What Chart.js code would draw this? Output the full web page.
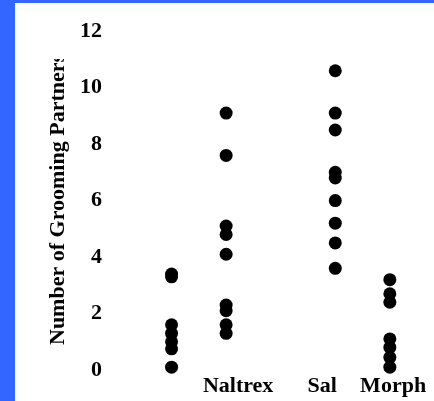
<!DOCTYPE html>
<html lang="en">

<head>
    <meta charset="UTF-8" />
    <title>Grooming Partners</title>
    <script src="https://cdn.jsdelivr.net/npm/chart.js"></script>
    <style>
        html, body { margin: 0; padding: 0; }
        body { background: #3366ff; width: 434px; height: 401px; overflow: hidden; }
        .painel {
            position: absolute; left: 15px; top: 3px;
            width: 419px; height: 398px; background: #ffffff;
        }
    </style>
</head>

<body>
    <div class="painel">
        <canvas id="graficoGrooming"></canvas>
    </div>
    <script>
        // groups on the x axis (first one has no label)
        const grupos = ['', 'Naltrex', 'Sal', 'Morph'];
        const posGrupos = [1, 2, 4, 5];

        // number of grooming partners per animal
        const semRotulo = [3.4, 3.3, 1.6, 1.3, 1.0, 0.75, 0.1];
        const naltrex = [9.1, 7.6, 5.1, 4.8, 4.1, 2.3, 2.1, 1.6, 1.3];
        const sal = [10.6, 9.1, 8.5, 7.0, 6.8, 6.0, 5.2, 4.5, 3.6];
        const morph = [3.2, 2.7, 2.4, 1.1, 0.8, 0.45, 0.1];

        const yTicks = [0, 2, 4, 6, 8, 10, 12];
        const tituloY = 'Number of Grooming Partners';

        // where the group names sit under the axis
        const posRotulos = [1, 2.22, 3.76, 5.06];

        const series = [semRotulo, naltrex, sal, morph];
        const pontos = [];
        for (let i = 0; i < series.length; i++) {
            for (let j = 0; j < series[i].length; j++) {
                pontos.push({ x: posGrupos[i], y: series[i][j] });
            }
        }

        const fonte = { family: '"Liberation Serif", "Times New Roman", serif', weight: 'bold', size: 22 };

        // vertical title, cut off at the top like the old slide
        const tituloPlugin = {
            id: 'tituloY',
            afterDraw(chart) {
                const ctx = chart.ctx;
                ctx.save();
                ctx.beginPath();
                ctx.rect(0, 56, 90, chart.height - 56);
                ctx.clip();
                ctx.translate(43, 342);
                ctx.rotate(-Math.PI / 2);
                ctx.font = 'bold 22px "Liberation Serif", "Times New Roman", serif';
                ctx.fillStyle = '#000';
                ctx.textAlign = 'left';
                ctx.textBaseline = 'middle';
                ctx.fillText(tituloY, 0, 0);
                ctx.restore();
            }
        };

        const ctx = document.getElementById('graficoGrooming');
        new Chart(ctx, {
            type: 'scatter',
            data: {
                datasets: [{
                    data: pontos,
                    backgroundColor: '#000',
                    borderWidth: 0,
                    pointRadius: 6.5,
                    pointHoverRadius: 6.5,
                    clip: false
                }]
            },
            options: {
                responsive: true,
                maintainAspectRatio: false,
                animation: false,
                layout: { padding: { top: 25, right: 0, bottom: 0, left: 0 } },
                plugins: { legend: { display: false }, tooltip: { enabled: false } },
                scales: {
                    x: {
                        type: 'linear',
                        min: 0,
                        max: 5.69,
                        grid: { display: false, drawTicks: false },
                        border: { display: false },
                        afterBuildTicks: (s) => { s.ticks = posRotulos.map(v => ({ value: v })); },
                        afterFit: (s) => { s.height = 31; },
                        ticks: {
                            autoSkip: false,
                            maxRotation: 0,
                            padding: 3,
                            color: '#000',
                            font: fonte,
                            callback: (v, i) => grupos[i]
                        }
                    },
                    y: {
                        min: 0,
                        max: 12,
                        grid: { display: false, drawTicks: false },
                        border: { display: false },
                        afterBuildTicks: (s) => { s.ticks = yTicks.map(v => ({ value: v })); },
                        afterFit: (s) => { s.width = 102; },
                        ticks: {
                            padding: 15,
                            color: '#000',
                            font: fonte
                        }
                    }
                }
            },
            plugins: [tituloPlugin]
        });
    </script>
</body>

</html>
